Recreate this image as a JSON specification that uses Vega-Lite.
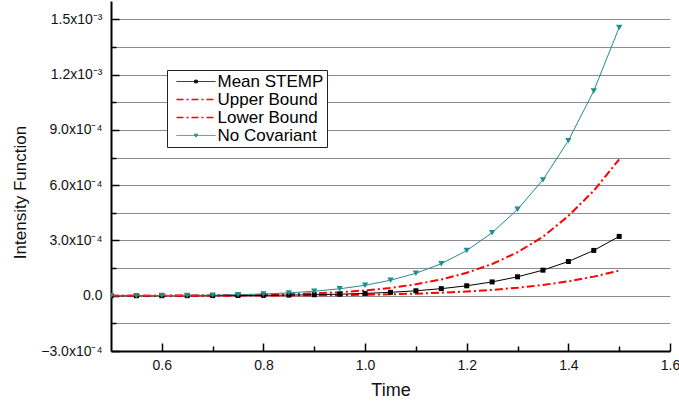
{
  "$schema": "https://vega.github.io/schema/vega-lite/v6.json",
  "autosize": {"type": "none"},
  "padding": {"left": 111, "top": 1, "right": 9, "bottom": 50},
  "width": 559,
  "height": 350,
  "background": "white",
  "config": {
    "view": {"stroke": null},
    "font": "Liberation Sans",
    "axis": {"labelFont": "Liberation Sans", "titleFont": "Liberation Sans", "labelColor": "#111", "titleColor": "#111", "titleFontWeight": "normal"}
  },
  "data": {"values": [
    {"t":0.5,"s":"Mean STEMP","v":4.9e-8},{"t":0.55,"s":"Mean STEMP","v":1.05e-7},{"t":0.6,"s":"Mean STEMP","v":2.11e-7},{"t":0.65,"s":"Mean STEMP","v":4.0e-7},{"t":0.7,"s":"Mean STEMP","v":7.24e-7},{"t":0.75,"s":"Mean STEMP","v":1.257e-6},{"t":0.8,"s":"Mean STEMP","v":2.107e-6},{"t":0.85,"s":"Mean STEMP","v":3.42e-6},{"t":0.9,"s":"Mean STEMP","v":5.41e-6},{"t":0.95,"s":"Mean STEMP","v":8.33e-6},{"t":1.0,"s":"Mean STEMP","v":1.256e-5},{"t":1.05,"s":"Mean STEMP","v":1.856e-5},{"t":1.1,"s":"Mean STEMP","v":2.69e-5},{"t":1.15,"s":"Mean STEMP","v":3.84e-5},{"t":1.2,"s":"Mean STEMP","v":5.4e-5},{"t":1.25,"s":"Mean STEMP","v":7.5e-5},{"t":1.3,"s":"Mean STEMP","v":1.028e-4},{"t":1.35,"s":"Mean STEMP","v":1.388e-4},{"t":1.4,"s":"Mean STEMP","v":1.858e-4},{"t":1.45,"s":"Mean STEMP","v":2.46e-4},{"t":1.5,"s":"Mean STEMP","v":3.22e-4},
    {"t":0.5,"s":"Upper Bound","v":1.13e-7},{"t":0.55,"s":"Upper Bound","v":2.42e-7},{"t":0.6,"s":"Upper Bound","v":4.85e-7},{"t":0.65,"s":"Upper Bound","v":9.21e-7},{"t":0.7,"s":"Upper Bound","v":1.666e-6},{"t":0.75,"s":"Upper Bound","v":2.893e-6},{"t":0.8,"s":"Upper Bound","v":4.849e-6},{"t":0.85,"s":"Upper Bound","v":7.875e-6},{"t":0.9,"s":"Upper Bound","v":1.244e-5},{"t":0.95,"s":"Upper Bound","v":1.917e-5},{"t":1.0,"s":"Upper Bound","v":2.89e-5},{"t":1.05,"s":"Upper Bound","v":4.27e-5},{"t":1.1,"s":"Upper Bound","v":6.2e-5},{"t":1.15,"s":"Upper Bound","v":8.84e-5},{"t":1.2,"s":"Upper Bound","v":1.245e-4},{"t":1.25,"s":"Upper Bound","v":1.725e-4},{"t":1.3,"s":"Upper Bound","v":2.36e-4},{"t":1.35,"s":"Upper Bound","v":3.2e-4},{"t":1.4,"s":"Upper Bound","v":4.33e-4},{"t":1.45,"s":"Upper Bound","v":5.7e-4},{"t":1.5,"s":"Upper Bound","v":7.4e-4},
    {"t":0.5,"s":"Lower Bound","v":2.1e-8},{"t":0.55,"s":"Lower Bound","v":4.4e-8},{"t":0.6,"s":"Lower Bound","v":8.9e-8},{"t":0.65,"s":"Lower Bound","v":1.69e-7},{"t":0.7,"s":"Lower Bound","v":3.06e-7},{"t":0.75,"s":"Lower Bound","v":5.31e-7},{"t":0.8,"s":"Lower Bound","v":8.89e-7},{"t":0.85,"s":"Lower Bound","v":1.444e-6},{"t":0.9,"s":"Lower Bound","v":2.281e-6},{"t":0.95,"s":"Lower Bound","v":3.516e-6},{"t":1.0,"s":"Lower Bound","v":5.3e-6},{"t":1.05,"s":"Lower Bound","v":7.83e-6},{"t":1.1,"s":"Lower Bound","v":1.136e-5},{"t":1.15,"s":"Lower Bound","v":1.621e-5},{"t":1.2,"s":"Lower Bound","v":2.28e-5},{"t":1.25,"s":"Lower Bound","v":3.16e-5},{"t":1.3,"s":"Lower Bound","v":4.32e-5},{"t":1.35,"s":"Lower Bound","v":5.85e-5},{"t":1.4,"s":"Lower Bound","v":7.82e-5},{"t":1.45,"s":"Lower Bound","v":1.038e-4},{"t":1.5,"s":"Lower Bound","v":1.36e-4},
    {"t":0.5,"s":"No Covariant","v":2.2e-7},{"t":0.55,"s":"No Covariant","v":4.8e-7},{"t":0.6,"s":"No Covariant","v":9.5e-7},{"t":0.65,"s":"No Covariant","v":1.81e-6},{"t":0.7,"s":"No Covariant","v":3.27e-6},{"t":0.75,"s":"No Covariant","v":5.69e-6},{"t":0.8,"s":"No Covariant","v":9.53e-6},{"t":0.85,"s":"No Covariant","v":1.548e-5},{"t":0.9,"s":"No Covariant","v":2.445e-5},{"t":0.95,"s":"No Covariant","v":3.77e-5},{"t":1.0,"s":"No Covariant","v":5.68e-5},{"t":1.05,"s":"No Covariant","v":8.4e-5},{"t":1.1,"s":"No Covariant","v":1.22e-4},{"t":1.15,"s":"No Covariant","v":1.74e-4},{"t":1.2,"s":"No Covariant","v":2.45e-4},{"t":1.25,"s":"No Covariant","v":3.42e-4},{"t":1.3,"s":"No Covariant","v":4.69e-4},{"t":1.35,"s":"No Covariant","v":6.29e-4},{"t":1.4,"s":"No Covariant","v":8.42e-4},{"t":1.45,"s":"No Covariant","v":1.112e-3},{"t":1.5,"s":"No Covariant","v":1.456e-3}
  ]},
  "encoding": {
    "x": {
      "field": "t", "type": "quantitative",
      "scale": {"domain": [0.5, 1.6], "nice": false, "zero": false},
      "axis": {
        "title": "Time", "titleFontSize": 18, "titleY": 39, "titleBaseline": "middle",
        "values": [0.6, 0.7, 0.8, 0.9, 1.0, 1.1, 1.2, 1.3, 1.4, 1.5, 1.6],
        "labelExpr": "round(datum.value*10) % 2 == 0 ? format(datum.value, '.1f') : ''",
        "labelFontSize": 14, "labelPadding": 15, "labelFlush": false, "labelOverlap": false,
        "tickSize": {"condition": {"test": "round(datum.value*10) % 2 == 0", "value": -8}, "value": -5},
        "tickColor": "#000", "tickWidth": 1.5,
        "domainColor": "#000", "domainWidth": 2, "grid": false
      }
    },
    "y": {
      "field": "v", "type": "quantitative",
      "scale": {"domain": [-0.0003, 0.0016], "nice": false, "zero": false},
      "axis": {
        "title": "Intensity Function", "titleFontSize": 17, "titleX": -91, "titleY": 191, "titleBaseline": "middle", "titleAlign": "center", "titleAngle": 270,
        "values": [-0.0003, -0.00015, 0, 0.00015, 0.0003, 0.00045, 0.0006, 0.00075, 0.0009, 0.00105, 0.0012, 0.00135, 0.0015],
        "labelExpr": "round(datum.value/0.00015) % 2 != 0 ? '' : (datum.value == 0 ? '0.0' : (abs(datum.value) > 0.00099 ? format(datum.value*1000, '.1f') + 'x10⁻³' : format(datum.value*10000, '.1f') + 'x10⁻⁴'))",
        "labelFontSize": 14, "labelPadding": 17, "labelOverlap": false, "labelFlush": false,
        "tickSize": {"condition": {"test": "round(datum.value/0.00015) % 2 == 0", "value": -8}, "value": -5},
        "tickColor": "#000", "tickWidth": 1.5,
        "domainColor": "#000", "domainWidth": 2,
        "grid": true, "gridColor": "#8c8c8c", "gridWidth": 1
      }
    },
    "color": {
      "field": "s", "type": "nominal",
      "scale": {"domain": ["Mean STEMP", "Upper Bound", "Lower Bound", "No Covariant"], "range": ["#000000", "#ff0000", "#ff0000", "#1f8e8e"]},
      "legend": {
        "title": null, "orient": "none", "legendX": 56, "legendY": 69,
        "fillColor": "white", "strokeColor": "#222", "padding": 3,
        "labelFont": "Liberation Sans", "labelFontSize": 17, "labelColor": "#000", "labelOffset": 13, "labelLimit": 0,
        "rowPadding": 0, "symbolSize": 36, "symbolOffset": 17.5, "symbolStrokeWidth": 1,
        "encode": {
          "symbols": {
            "update": {
              "shape": {"signal": "datum.value == 'Mean STEMP' ? 'M-6.5,0H6.5M-0.45,-0.45H0.45V0.45H-0.45Z' : (datum.value == 'No Covariant' ? 'M-6.5,0H6.5M-0.6,-0.45H0.6L0,0.55Z' : 'M-6.5,0H6.5')"},
              "strokeDash": {"signal": "datum.value == 'Upper Bound' || datum.value == 'Lower Bound' ? [7,3,2,3] : [1,0]"},
              "strokeWidth": {"signal": "datum.value == 'Upper Bound' || datum.value == 'Lower Bound' ? 1.5 : 1"},
              "stroke": {"scale": "color", "field": "value"},
              "fill": {"scale": "color", "field": "value"},
              "opacity": {"value": 1}
            }
          }
        }
      }
    }
  },
  "layer": [
    {
      "transform": [{"filter": "datum.s == 'Upper Bound' || datum.s == 'Lower Bound'"}],
      "mark": {"type": "line", "clip": true, "strokeWidth": 2, "strokeDash": [8, 3, 2, 3]},
      "encoding": {"detail": {"field": "s", "type": "nominal"}}
    },
    {
      "transform": [{"filter": "datum.s == 'Mean STEMP'"}],
      "mark": {"type": "line", "clip": true, "strokeWidth": 1},
      "encoding": {}
    },
    {
      "transform": [{"filter": "datum.s == 'Mean STEMP'"}],
      "mark": {"type": "point", "filled": true, "opacity": 1, "clip": true, "shape": "square", "size": 25},
      "encoding": {}
    },
    {
      "transform": [{"filter": "datum.s == 'No Covariant'"}],
      "mark": {"type": "line", "clip": true, "strokeWidth": 1},
      "encoding": {}
    },
    {
      "transform": [{"filter": "datum.s == 'No Covariant'"}],
      "mark": {"type": "point", "filled": true, "opacity": 1, "clip": true, "shape": "triangle-down", "size": 40},
      "encoding": {}
    }
  ]
}
